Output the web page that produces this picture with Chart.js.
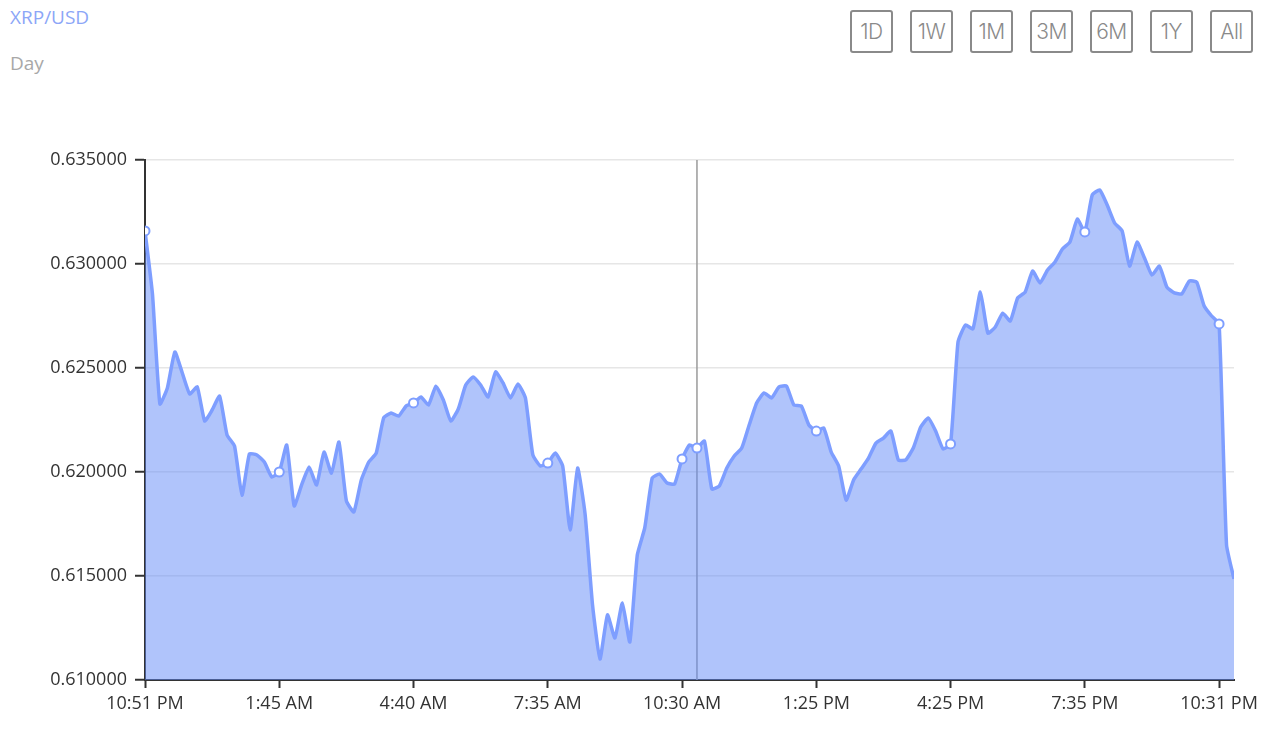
<!DOCTYPE html>
<html>
<head>
<meta charset="utf-8">
<script src="https://cdn.jsdelivr.net/npm/chart.js@4/dist/chart.umd.min.js"></script>
<style>
  html, body { margin: 0; padding: 0; background: #fff; }
  body { width: 1264px; height: 740px; position: relative; overflow: hidden; font-family: "Open Sans", sans-serif; }
  .pair { position: absolute; left: 10px; top: 4px; font-size: 19px; color: #8ca6f7; }
  .period { position: absolute; left: 10px; top: 50px; font-size: 19px; color: #a8a8a8; }
  .ranges { position: absolute; top: 10px; left: 850px; }
  .ranges span {
    position: absolute; top: 0; width: 39px; height: 39px;
    border: 2px solid #8a8a8a; border-radius: 3px;
    color: #8a8a8a; font: 300 21px Inter, Lato, sans-serif;
    line-height: 39px; text-align: center; letter-spacing: -0.5px;
  }
  #wrap { position: absolute; left: 0; top: 140px; width: 1264px; height: 600px; }
</style>
</head>
<body>
<div class="pair">XRP/USD</div>
<div class="period">Day</div>
<div class="ranges" id="ranges"></div>
<div id="wrap"><canvas id="chart"></canvas></div>

<script>
// range buttons across the top right
const rangeButtons = ['1D', '1W', '1M', '3M', '6M', '1Y', 'All'];

// x axis labels, one every 18 samples
const timeLabels = ['10:51 PM', '1:45 AM', '4:40 AM', '7:35 AM', '10:30 AM', '1:25 PM', '4:25 PM', '7:35 PM', '10:31 PM'];
const labelEvery = 18;
const hoverIndex = 74;

// XRP/USD price samples
const prices = [
  0.63159, 0.62856, 0.62327, 0.62404, 0.62577, 0.62476, 0.62375, 0.62409, 0.62245, 0.62298,
  0.62365, 0.62178, 0.62125, 0.61889, 0.62087, 0.62082, 0.62048, 0.61976, 0.62000, 0.62130,
  0.61837, 0.61938, 0.62024, 0.61938, 0.62096, 0.61995, 0.62144, 0.61861, 0.61808, 0.61962,
  0.62048, 0.62091, 0.62260, 0.62284, 0.62269, 0.62317, 0.62332, 0.62361, 0.62322, 0.62413,
  0.62346, 0.62245, 0.62303, 0.62418, 0.62457, 0.62418, 0.62361, 0.62481, 0.62428, 0.62356,
  0.62423, 0.62356, 0.62082, 0.62029, 0.62043, 0.62091, 0.62029, 0.61721, 0.62019, 0.61798,
  0.61361, 0.61101, 0.61313, 0.61202, 0.61370, 0.61183, 0.61601, 0.61731, 0.61971, 0.61990,
  0.61947, 0.61942, 0.62063, 0.62130, 0.62115, 0.62149, 0.61918, 0.61933, 0.62019, 0.62077,
  0.62115, 0.62226, 0.62332, 0.62380, 0.62356, 0.62409, 0.62413, 0.62322, 0.62317, 0.62226,
  0.62197, 0.62212, 0.62096, 0.62029, 0.61865, 0.61962, 0.62014, 0.62067, 0.62139, 0.62163,
  0.62197, 0.62058, 0.62058, 0.62115, 0.62216, 0.62260, 0.62197, 0.62111, 0.62135, 0.62625,
  0.62707, 0.62688, 0.62865, 0.62668, 0.62697, 0.62764, 0.62726, 0.62837, 0.62865, 0.62966,
  0.62909, 0.62971, 0.63010, 0.63072, 0.63106, 0.63216, 0.63154, 0.63332, 0.63356, 0.63284,
  0.63197, 0.63159, 0.62990, 0.63106, 0.63029, 0.62947, 0.62990, 0.62889, 0.62861, 0.62856,
  0.62918, 0.62913, 0.62798, 0.62750, 0.62712, 0.61649, 0.61486
];

const yMin = 0.610;
const yMax = 0.635;
const yStep = 0.005;

const lineColor = 'rgb(126, 158, 255)';

document.addEventListener('DOMContentLoaded', function() {
  const box = document.getElementById('ranges');
  rangeButtons.forEach((txt, i) => {
    const b = document.createElement('span');
    b.textContent = txt;
    b.style.left = (i * 60) + 'px';
    box.appendChild(b);
  });

  // vertical hover line, drawn under the area
  const crosshair = {
    id: 'crosshair',
    beforeDatasetsDraw(chart) {
      const x = chart.scales.x.getPixelForValue(hoverIndex);
      const { top, bottom } = chart.chartArea;
      const ctx = chart.ctx;
      ctx.save();
      ctx.strokeStyle = '#9a9a9a';
      ctx.lineWidth = 1.5;
      ctx.beginPath();
      ctx.moveTo(x, top);
      ctx.lineTo(x, bottom);
      ctx.stroke();
      ctx.restore();
    }
  };

  const tickFont = { family: 'Open Sans', size: 18 };

  new Chart(document.getElementById('chart'), {
    type: 'line',
    data: {
      datasets: [{
        data: prices.map((p, i) => ({ x: i, y: p })),
        borderColor: lineColor,
        borderWidth: 3.5,
        backgroundColor: 'rgba(98, 137, 248, 0.5)',
        fill: 'start',
        tension: 0.15,
        pointRadius: ctx => (ctx.dataIndex % labelEvery === 0 && ctx.dataIndex <= labelEvery * (timeLabels.length - 1)) || ctx.dataIndex === hoverIndex ? 4.5 : 0,
        pointBackgroundColor: '#fff',
        pointBorderColor: lineColor,
        pointBorderWidth: 2
      }]
    },
    options: {
      responsive: true,
      maintainAspectRatio: false,
      animation: false,
      events: [],
      layout: { padding: { top: 20, right: 30, bottom: 0, left: 0 } },
      plugins: { legend: { display: false }, tooltip: { enabled: false } },
      scales: {
        x: {
          type: 'linear',
          min: 0,
          max: prices.length - 1,
          afterFit: s => { s.height = 60; },
          border: { color: '#333', width: 2 },
          grid: { drawOnChartArea: false, tickLength: 8, tickColor: '#333', tickWidth: 2 },
          ticks: {
            stepSize: labelEvery,
            includeBounds: false,
            autoSkip: false,
            maxRotation: 0,
            padding: 5,
            color: '#333',
            font: tickFont,
            callback: v => timeLabels[v / labelEvery] || ''
          }
        },
        y: {
          min: yMin,
          max: yMax,
          afterFit: s => { s.width = 145; },
          border: { color: '#333', width: 2 },
          grid: { color: '#e6e6e6', lineWidth: 1.5, tickLength: 10, tickColor: '#333', tickWidth: 2 },
          ticks: {
            stepSize: yStep,
            padding: 8,
            color: '#333',
            font: tickFont,
            callback: v => v.toFixed(6)
          }
        }
      }
    },
    plugins: [crosshair]
  });
});
</script>
</body>
</html>
